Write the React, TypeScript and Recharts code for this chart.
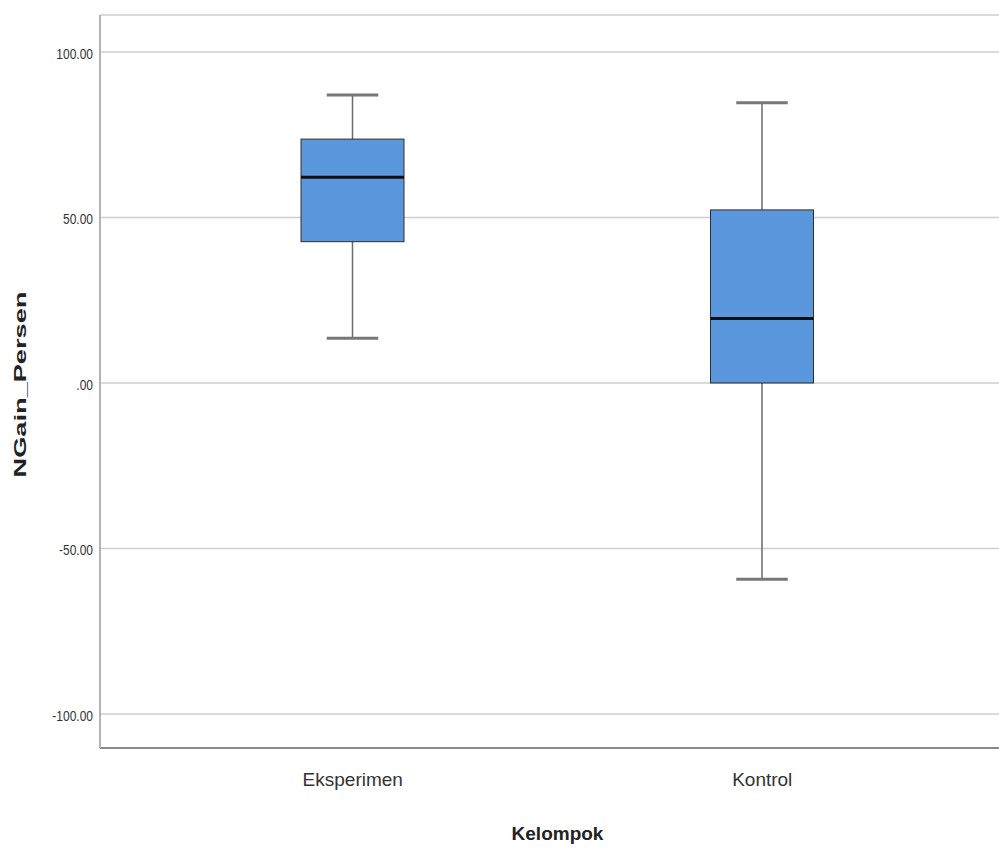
import React from "react";
import {
  ComposedChart,
  Bar,
  XAxis,
  YAxis,
  CartesianGrid,
} from "recharts";

// SPSS boxplot: NGain_Persen by Kelompok
const categories = ["Eksperimen", "Kontrol"];
const minValues = [13.5, -59.3];
const q1Values = [42.7, 0];
const medianValues = [62.2, 19.5];
const q3Values = [73.7, 52.3];
const maxValues = [87.0, 84.7];
const yTicks = [-100, -50, 0, 50, 100];

const data = categories.map((name, i) => ({
  name,
  whisker: [minValues[i], maxValues[i]],
  box: [q1Values[i], q3Values[i]],
  median: [medianValues[i], medianValues[i]],
}));

const FONT = "'Liberation Sans', Arial, sans-serif";

const fmt = (v: number) => (v === 0 ? ".00" : v.toFixed(2));

const WhiskerShape = (props: any) => {
  const { x, y, width, height } = props;
  const cx = x + width / 2;
  const top = Math.min(y, y + height);
  const bottom = Math.max(y, y + height);
  const cap = width * 0.25;
  return (
    <g>
      <line x1={cx} x2={cx} y1={top} y2={bottom} stroke="#6b6b6b" strokeWidth={1.5} />
      <line x1={cx - cap} x2={cx + cap} y1={top} y2={top} stroke="#777" strokeWidth={3} />
      <line x1={cx - cap} x2={cx + cap} y1={bottom} y2={bottom} stroke="#777" strokeWidth={3} />
    </g>
  );
};

const BoxShape = (props: any) => {
  const { x, y, width, height } = props;
  const top = Math.min(y, y + height);
  const h = Math.abs(height);
  return <rect x={x} y={top} width={width} height={h} fill="#5b97dd" stroke="#2e2e2e" strokeWidth={1} />;
};

const MedianShape = (props: any) => {
  const { x, y, width } = props;
  return <line x1={x} x2={x + width} y1={y} y2={y} stroke="#111" strokeWidth={3} />;
};

const YTick = (props: any) => {
  const { x, y, payload } = props;
  return (
    <g transform={`translate(${x},${y + 2}) scale(0.8,1)`}>
      <text x={0} y={0} textAnchor="end" dominantBaseline="central" fontSize={15} fill="#333" fontFamily={FONT}>
        {fmt(payload.value)}
      </text>
    </g>
  );
};

const XTick = (props: any) => {
  const { x, y, payload } = props;
  return (
    <text x={x} y={y + 31} textAnchor="middle" dominantBaseline="central" fontSize={19} fill="#333" fontFamily={FONT}>
      {payload.value}
    </text>
  );
};

const XLabel = (props: any) => {
  const { viewBox } = props;
  const cx = viewBox.x + viewBox.width / 2;
  return (
    <text x={cx} y={viewBox.y + 85} textAnchor="middle" dominantBaseline="central" fontSize={19} fontWeight="bold" fill="#222" fontFamily={FONT}>
      Kelompok
    </text>
  );
};

const YLabel = (props: any) => {
  const { viewBox } = props;
  const cy = viewBox.y + viewBox.height / 2 + 3;
  return (
    <g transform={`translate(21,${cy}) rotate(-90) scale(1.7,1)`}>
      <text x={0} y={0} textAnchor="middle" dominantBaseline="central" fontSize={16} fontWeight="bold" fill="#222" fontFamily={FONT}>
        NGain_Persen
      </text>
    </g>
  );
};

export default function App() {
  return (
    <div style={{ position: "absolute", left: 0, top: 0, width: 999, height: 851, overflow: "hidden", background: "#fff" }}>
      <ComposedChart
        width={1015}
        height={851}
        data={data}
        margin={{ top: 15, right: 0, bottom: 0, left: 0 }}
        barSize={103}
        barGap={-103}
      >
        <CartesianGrid horizontal vertical={false} stroke="#cfcfcf" strokeWidth={1.5} />
        <XAxis
          dataKey="name"
          type="category"
          height={103}
          padding={{ left: 48, right: 48 }}
          tickLine={false}
          tickSize={0}
          tickMargin={0}
          axisLine={{ stroke: "#8a8a8a", strokeWidth: 2 }}
          tick={<XTick />}
          label={<XLabel />}
        />
        <YAxis
          type="number"
          width={100}
          domain={[-110.3, 111.2]}
          ticks={yTicks}
          allowDataOverflow
          tickLine={false}
          tickSize={0}
          tickMargin={7}
          axisLine={{ stroke: "#b3b3b3", strokeWidth: 2 }}
          tick={<YTick />}
          label={<YLabel />}
        />
        <Bar dataKey="whisker" shape={<WhiskerShape />} isAnimationActive={false} />
        <Bar dataKey="box" shape={<BoxShape />} isAnimationActive={false} />
        <Bar dataKey="median" shape={<MedianShape />} isAnimationActive={false} />
      </ComposedChart>
    </div>
  );
}
